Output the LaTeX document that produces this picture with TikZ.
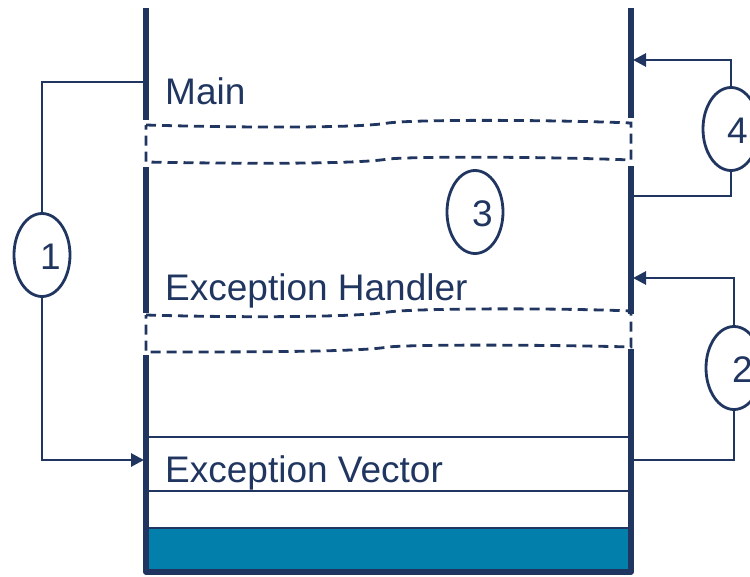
\documentclass[tikz,border=0pt]{standalone}
\usepackage{fontspec}
\setmainfont{Liberation Sans}
\usetikzlibrary{arrows.meta,shapes.geometric}
\definecolor{navy}{RGB}{32,54,96}
\definecolor{teal}{RGB}{3,127,172}
\tikzset{
  wall/.style={draw=navy,line width=5.5pt,line cap=butt},
  thin/.style={draw=navy,line width=2.6pt},
  brk/.style={draw=navy,line width=2.8pt,dash pattern=on 10pt off 6pt},
  conn/.style={draw=navy,line width=2.8pt},
  arr/.style={conn,-{Triangle[length=13pt,width=13pt]}},
  label/.style={text=navy,font=\fontsize{37}{44}\selectfont,anchor=base west,inner sep=0pt},
  num/.style={ellipse,draw=navy,line width=2.8pt,fill=white,minimum width=56pt,minimum height=83pt,
              inner sep=0pt},
  digit/.style={text=navy,font=\fontsize{37}{44}\selectfont,anchor=base west,inner sep=0pt}
}
\begin{document}
\begin{tikzpicture}[x=1pt,y=-1pt]
\useasboundingbox (0,0) rectangle (750,576);
\clip (0,0) rectangle (750,576);

% memory column: upper walls
\draw[wall] (146,8) -- (146,120);
\draw[wall] (631,8) -- (631,118);
\draw[wall] (146,167) -- (146,313);
\draw[wall] (631,166) -- (631,314);

% lower part with vector table and reserved area
\fill[teal] (147,528) rectangle (630,572);
\draw[thin] (146,437) -- (631,437);
\draw[thin] (146,491) -- (631,491);
\draw[thin] (146,528) -- (631,528);
\draw[wall,line join=round] (146,355) -- (146,572) -- (631,572) -- (631,349);

% omitted regions (breaks)
\draw[brk] (146,125) .. controls (250,128) and (360,128) .. (388,123)
  .. controls (420,119) and (560,120) .. (631,123) -- (631,160)
  .. controls (560,157) and (420,156) .. (388,159)
  .. controls (360,164) and (250,164) .. (146,162) -- cycle;
\draw[brk] (146,315) .. controls (250,318) and (360,317) .. (388,312)
  .. controls (420,308) and (560,308) .. (631,311) -- (631,347)
  .. controls (560,345) and (420,344) .. (388,347)
  .. controls (360,352) and (250,352) .. (146,352) -- cycle;

% section labels
\node[label] (lmain) at (165,104) {Main};
\node[label] (lhandler) at (165,300) {Exception Handler};
\node[label] (lvector) at (165,482) {Exception Vector};

% step markers
\node[num] (e1) at (42,255) {};
\node[num] (e2) at (734,368) {};
\node[num] (e3) at (475,212) {};
\node[num] (e4) at (731,129) {};
\node[digit] (d1) at (40,269) {1};
\node[digit] (d2) at (732,382) {2};
\node[digit] (d3) at (472,226) {3};
\node[digit] (d4) at (727,143) {4};

% wall attachment points
\coordinate (m1) at (146,82);
\coordinate (v1) at (144,460);
\coordinate (w4a) at (633,60);
\coordinate (w4b) at (631,196);
\coordinate (w2a) at (633,278);
\coordinate (w2b) at (631,460);

% step 1: main to exception vector
\draw[conn] (m1) -| (e1.north);
\draw[arr] (e1.south) |- (v1);
% step 2: vector to handler
\draw[conn] (e2.south) |- (w2b);
\draw[arr] (e2.north) |- (w2a);
% step 4: return to main
\draw[conn] (e4.south) |- (w4b);
\draw[arr] (e4.north) |- (w4a);
\end{tikzpicture}
\end{document}
